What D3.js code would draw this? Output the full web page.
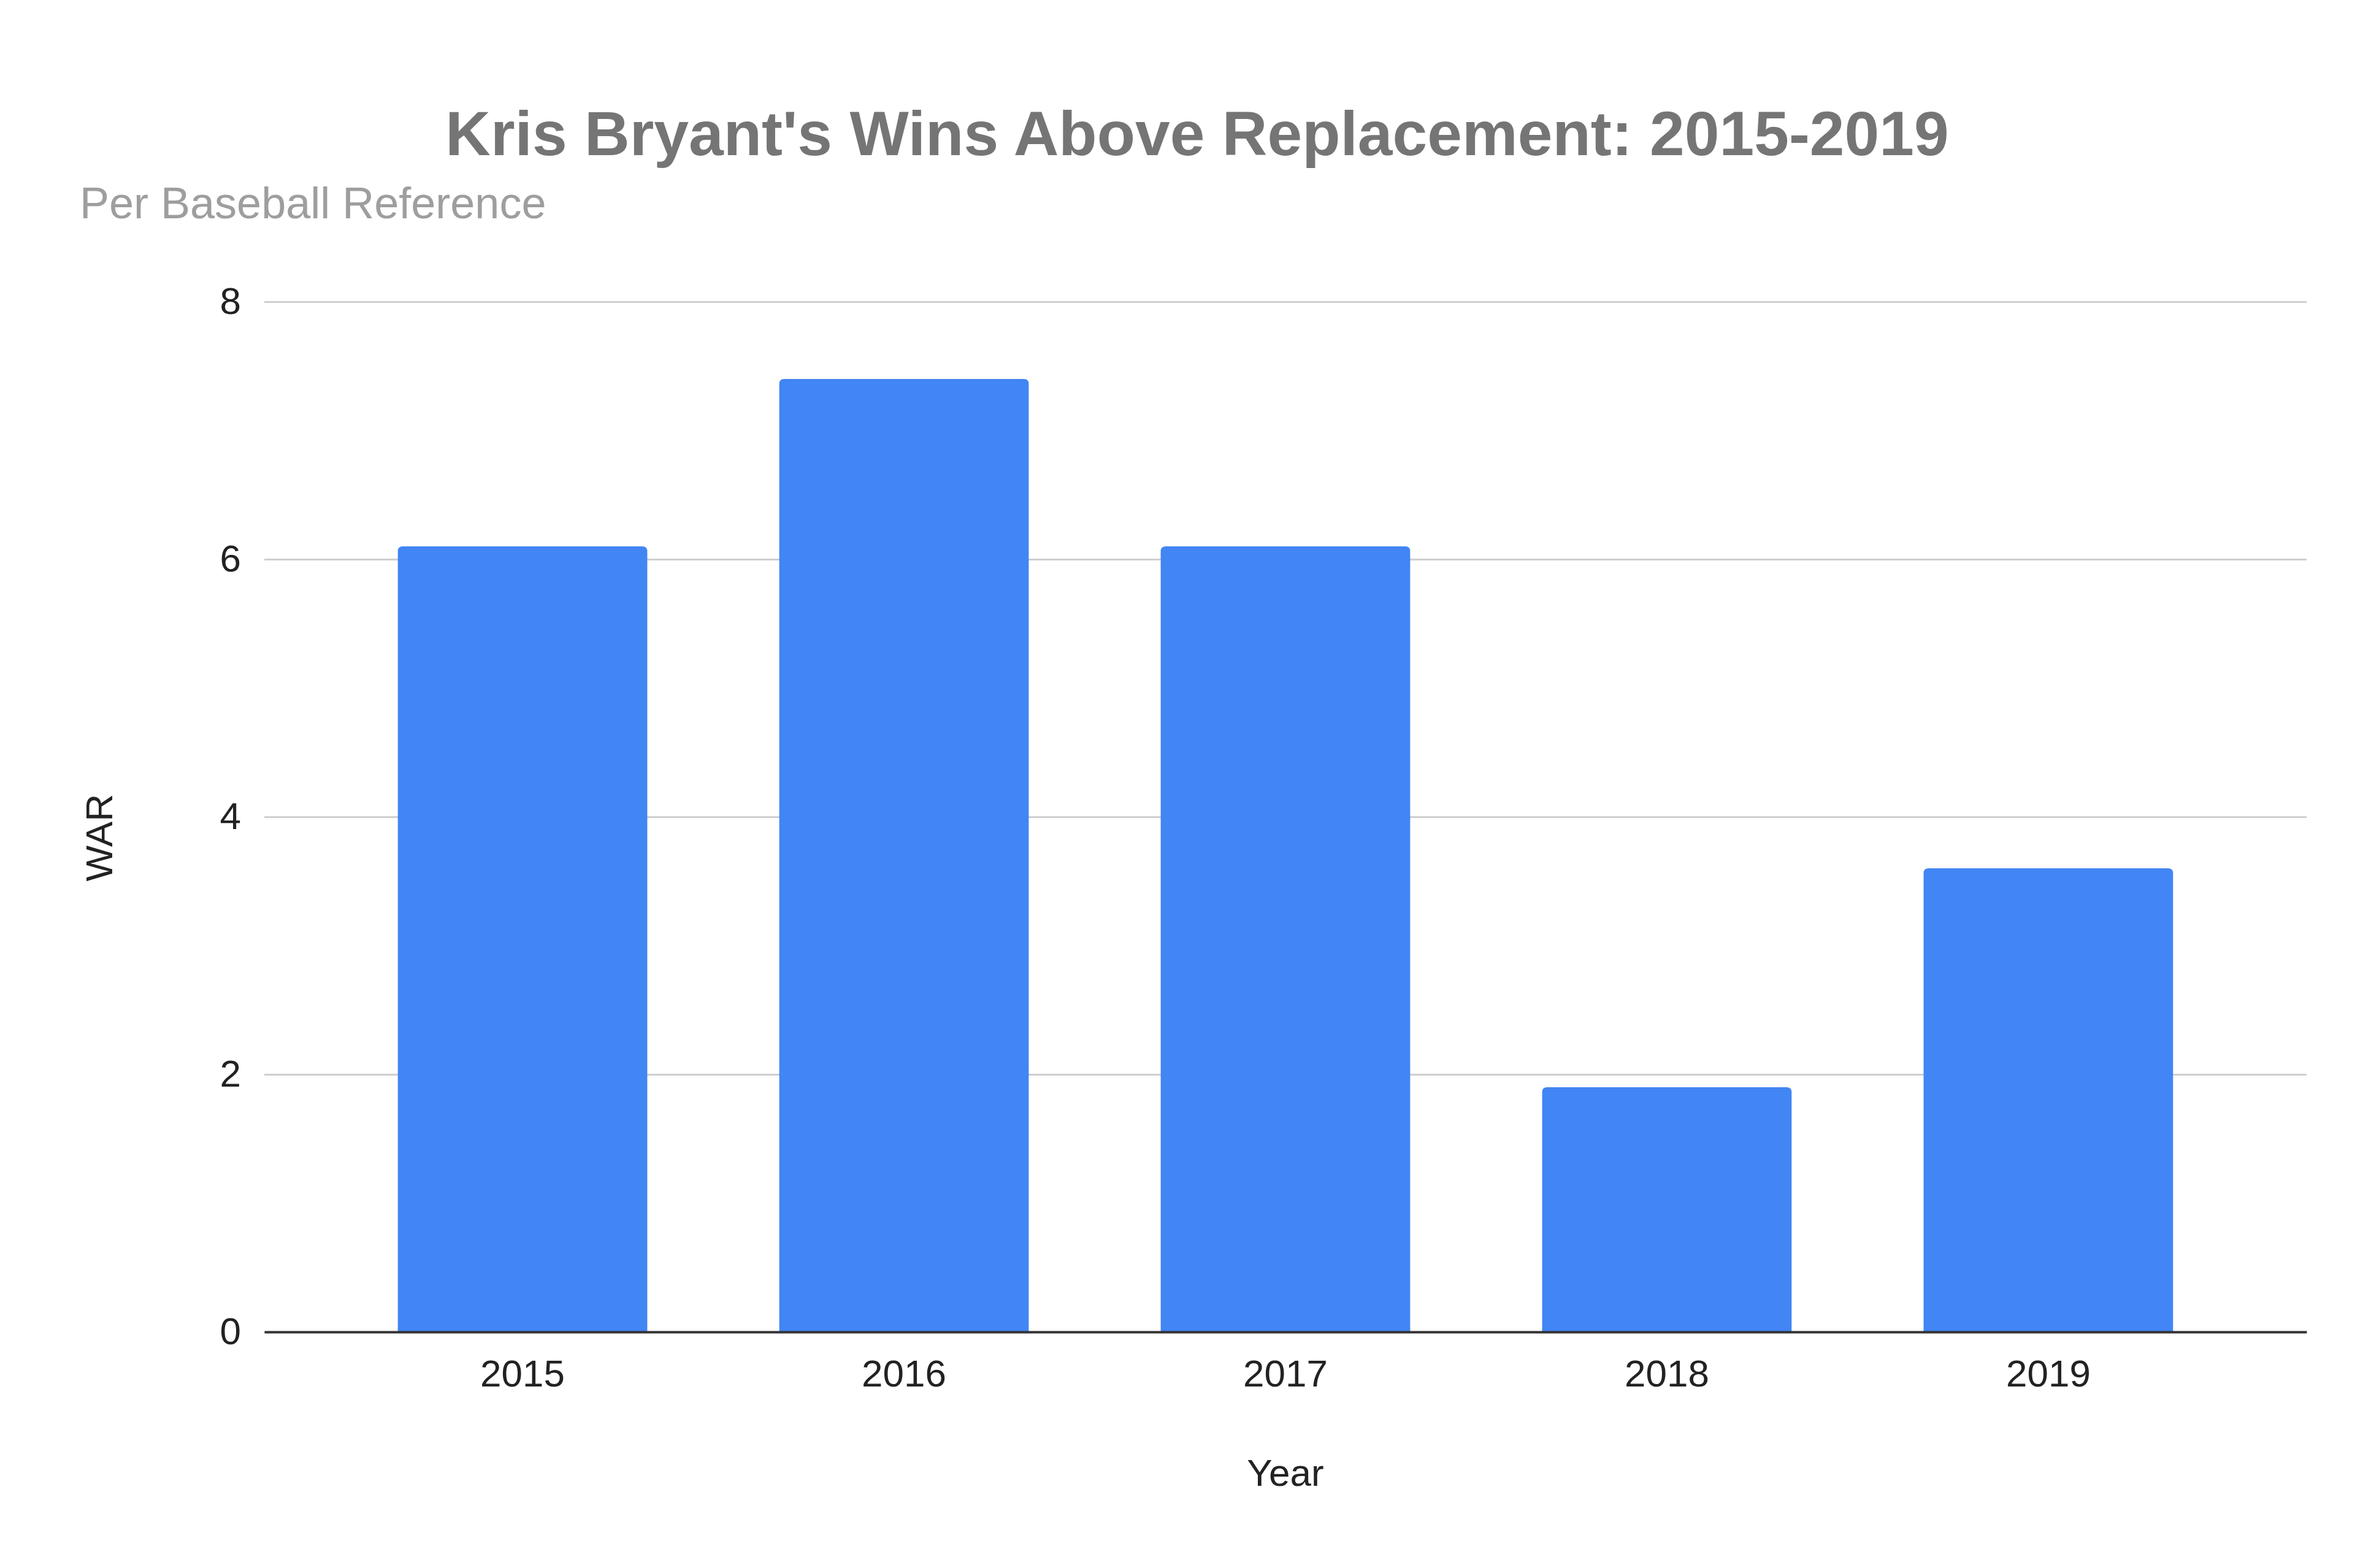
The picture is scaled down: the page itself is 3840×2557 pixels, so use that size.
<!DOCTYPE html>
<html>
<head>
<meta charset="utf-8">
<script src="https://cdn.jsdelivr.net/npm/d3@7"></script>
<style>
  body { margin: 0; background: #fff; }
  text { font-family: "Liberation Sans", Arial, sans-serif; }
</style>
</head>
<body>
<div id="chart"></div>
<script>
// 1: DATA
const years = ["2015", "2016", "2017", "2018", "2019"];
const war = [6.1, 7.4, 6.1, 1.9, 3.6];
const yTicks = [0, 2, 4, 6, 8];

// 2: LAYOUT
const W = 3840, H = 2557;
const plot = { left: 431, right: 3761, top: 492, bottom: 2172 };

const svg = d3.select("#chart")
    .append("svg")
    .attr("width", W)
    .attr("height", H);

svg.append("rect").attr("width", W).attr("height", H).attr("fill", "#fff");

// 3: SCALES
const x = d3.scaleBand()
    .domain(years)
    .range([plot.left, plot.right])
    .paddingInner(0.346)
    .paddingOuter(0.35);

const y = d3.scaleLinear()
    .domain([0, 8])
    .range([plot.bottom, plot.top]);

// 4: GRIDLINES + Y AXIS
const yAxis = svg.append("g")
    .attr("transform", `translate(${plot.left},0)`)
    .call(d3.axisLeft(y).tickValues(yTicks).tickSize(-(plot.right - plot.left)).tickPadding(38));
yAxis.select(".domain").remove();
yAxis.selectAll(".tick line")
    .attr("stroke", "#cfcfcf")
    .attr("stroke-width", 3);
yAxis.selectAll(".tick text")
    .attr("fill", "#222")
    .style("font-size", "62px");

// 5: BARS (rounded top corners)
const r = 8;
svg.append("g")
    .selectAll("path")
    .data(years.map((yr, i) => ({ year: yr, value: war[i] })))
    .join("path")
    .attr("fill", "#4285f4")
    .attr("d", d => {
        const x0 = x(d.year), x1 = x0 + x.bandwidth();
        const y0 = y(d.value), y1 = y(0);
        return `M${x0},${y1}V${y0 + r}Q${x0},${y0} ${x0 + r},${y0}H${x1 - r}Q${x1},${y0} ${x1},${y0 + r}V${y1}Z`;
    });

// 6: X AXIS
const xAxis = svg.append("g")
    .attr("transform", `translate(0,${plot.bottom})`)
    .call(d3.axisBottom(x).tickSize(0).tickPadding(45));
xAxis.select(".domain")
    .attr("stroke", "#333")
    .attr("stroke-width", 4);
xAxis.selectAll(".tick text")
    .attr("fill", "#222")
    .style("font-size", "62px");

// 7: TITLES
svg.append("text")
    .attr("x", 1952)
    .attr("y", 253)
    .attr("text-anchor", "middle")
    .attr("fill", "#757575")
    .style("font-size", "102px")
    .style("font-weight", "bold")
    .text("Kris Bryant's Wins Above Replacement: 2015-2019");

svg.append("text")
    .attr("x", 130)
    .attr("y", 356)
    .attr("fill", "#9e9e9e")
    .style("font-size", "72px")
    .text("Per Baseball Reference");

svg.append("text")
    .attr("x", (plot.left + plot.right) / 2)
    .attr("y", 2423)
    .attr("text-anchor", "middle")
    .attr("fill", "#222")
    .style("font-size", "62px")
    .text("Year");

svg.append("text")
    .attr("transform", "translate(183,1366) rotate(-90)")
    .attr("text-anchor", "middle")
    .attr("fill", "#222")
    .style("font-size", "62px")
    .text("WAR");
</script>
</body>
</html>
